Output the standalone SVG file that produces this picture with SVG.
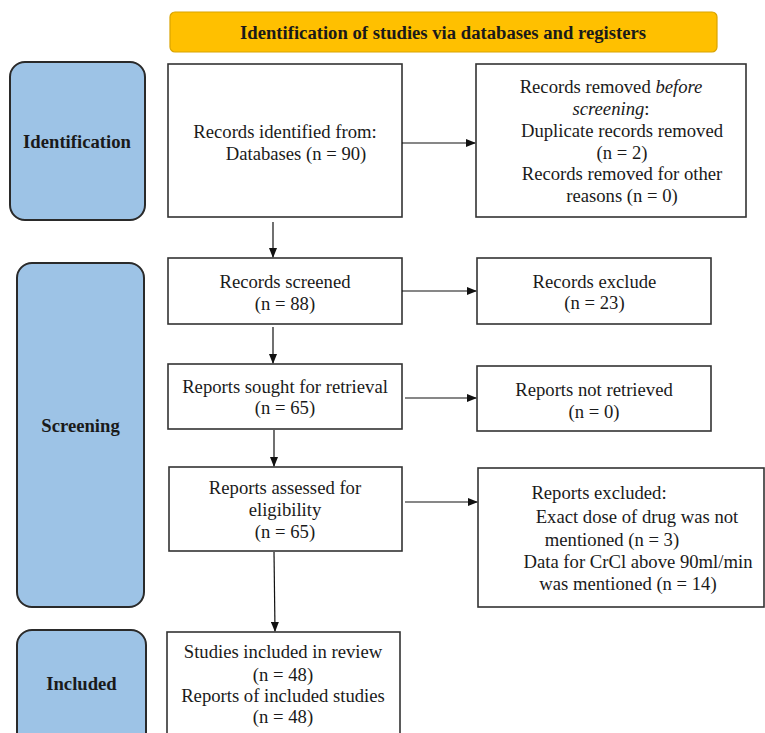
<svg xmlns="http://www.w3.org/2000/svg" width="765" height="733" viewBox="0 0 765 733">
<style>
.t{font-family:"Liberation Serif",Tinos,"Times New Roman",Times,serif;font-size:18.67px;fill:#1a1a1a;text-anchor:middle}
.b{font-weight:bold}
.box{fill:#fff;stroke:#333;stroke-width:1.6}
.phase{fill:#9DC3E6;stroke:#2a2a2a;stroke-width:2}
.con{stroke:#111;stroke-width:1.2;fill:none;marker-end:url(#ah)}
</style>
<defs>
<marker id="ah" markerWidth="10" markerHeight="8" refX="9" refY="4" orient="auto" markerUnits="userSpaceOnUse">
<path d="M0,0 L10,4 L0,8 z" fill="#111"/>
</marker>
</defs>
<rect width="765" height="733" fill="#fff"/>
<g id="header">
<rect x="170" y="12" width="547" height="40" rx="5" fill="#FFC000" stroke="#D9A300" stroke-width="1.2"/>
<text class="t b" x="443" y="39">Identification of studies via databases and registers</text>
</g>
<g id="phase-identification">
<rect class="phase" x="10" y="62" width="135" height="158" rx="15"/>
<text class="t b" x="77" y="148">Identification</text>
</g>
<g id="phase-screening">
<rect class="phase" x="17" y="263" width="127" height="344" rx="15"/>
<text class="t b" x="80.5" y="432">Screening</text>
</g>
<g id="phase-included">
<rect class="phase" x="17" y="630" width="129" height="120" rx="15"/>
<text class="t b" x="81.5" y="690">Included</text>
</g>
<g id="records-identified">
<rect class="box" x="168" y="64" width="234" height="153"/>
<text class="t" x="285" y="138">Records identified from:</text>
<text class="t" x="296" y="160">Databases (n = 90)</text>
</g>
<g id="records-removed">
<rect class="box" x="476" y="64" width="270" height="153"/>
<text class="t" x="611" y="93">Records removed <tspan font-style="italic">before</tspan></text>
<text class="t" x="611" y="115"><tspan font-style="italic">screening</tspan>:</text>
<text class="t" x="622" y="137">Duplicate records removed</text>
<text class="t" x="622" y="159">(n = 2)</text>
<text class="t" x="622" y="180">Records removed for other</text>
<text class="t" x="622" y="202">reasons (n = 0)</text>
</g>
<g id="records-screened">
<rect class="box" x="168" y="258" width="234" height="66"/>
<text class="t" x="285" y="288">Records screened</text>
<text class="t" x="285" y="310">(n = 88)</text>
</g>
<g id="records-excluded">
<rect class="box" x="477" y="258" width="234" height="66"/>
<text class="t" x="594.5" y="288">Records exclude</text>
<text class="t" x="594.5" y="309">(n = 23)</text>
</g>
<g id="reports-sought">
<rect class="box" x="168" y="364" width="234" height="65"/>
<text class="t" x="285" y="393">Reports sought for retrieval</text>
<text class="t" x="285" y="414">(n = 65)</text>
</g>
<g id="reports-not-retrieved">
<rect class="box" x="477" y="366" width="234" height="65"/>
<text class="t" x="594" y="396">Reports not retrieved</text>
<text class="t" x="594" y="418">(n = 0)</text>
</g>
<g id="reports-assessed">
<rect class="box" x="169" y="467" width="233" height="84"/>
<text class="t" x="285" y="494">Reports assessed for</text>
<text class="t" x="285" y="516">eligibility</text>
<text class="t" x="285" y="538">(n = 65)</text>
</g>
<g id="reports-excluded">
<rect class="box" x="478" y="468" width="286" height="139"/>
<text class="t" x="599" y="499">Reports excluded:</text>
<text class="t" x="637" y="523">Exact dose of drug was not</text>
<text class="t" x="612" y="546">mentioned (n = 3)</text>
<text class="t" x="638" y="568">Data for CrCl above 90ml/min</text>
<text class="t" x="628" y="590">was mentioned (n = 14)</text>
</g>
<g id="studies-included">
<rect class="box" x="167" y="632" width="233" height="120"/>
<text class="t" x="283" y="658">Studies included in review</text>
<text class="t" x="283" y="681">(n = 48)</text>
<text class="t" x="283" y="702">Reports of included studies</text>
<text class="t" x="283" y="723">(n = 48)</text>
</g>
<g id="connectors">
<line class="con" x1="402" y1="143" x2="475" y2="143"/>
<line class="con" x1="273" y1="222" x2="273" y2="257"/>
<line class="con" x1="402" y1="291" x2="476" y2="291"/>
<line class="con" x1="273" y1="327" x2="273" y2="363"/>
<line class="con" x1="405" y1="398" x2="476" y2="398"/>
<line class="con" x1="274" y1="430" x2="274" y2="466"/>
<line class="con" x1="405" y1="502" x2="477" y2="502"/>
<line class="con" x1="274" y1="552" x2="275" y2="631"/>
</g>
</svg>
